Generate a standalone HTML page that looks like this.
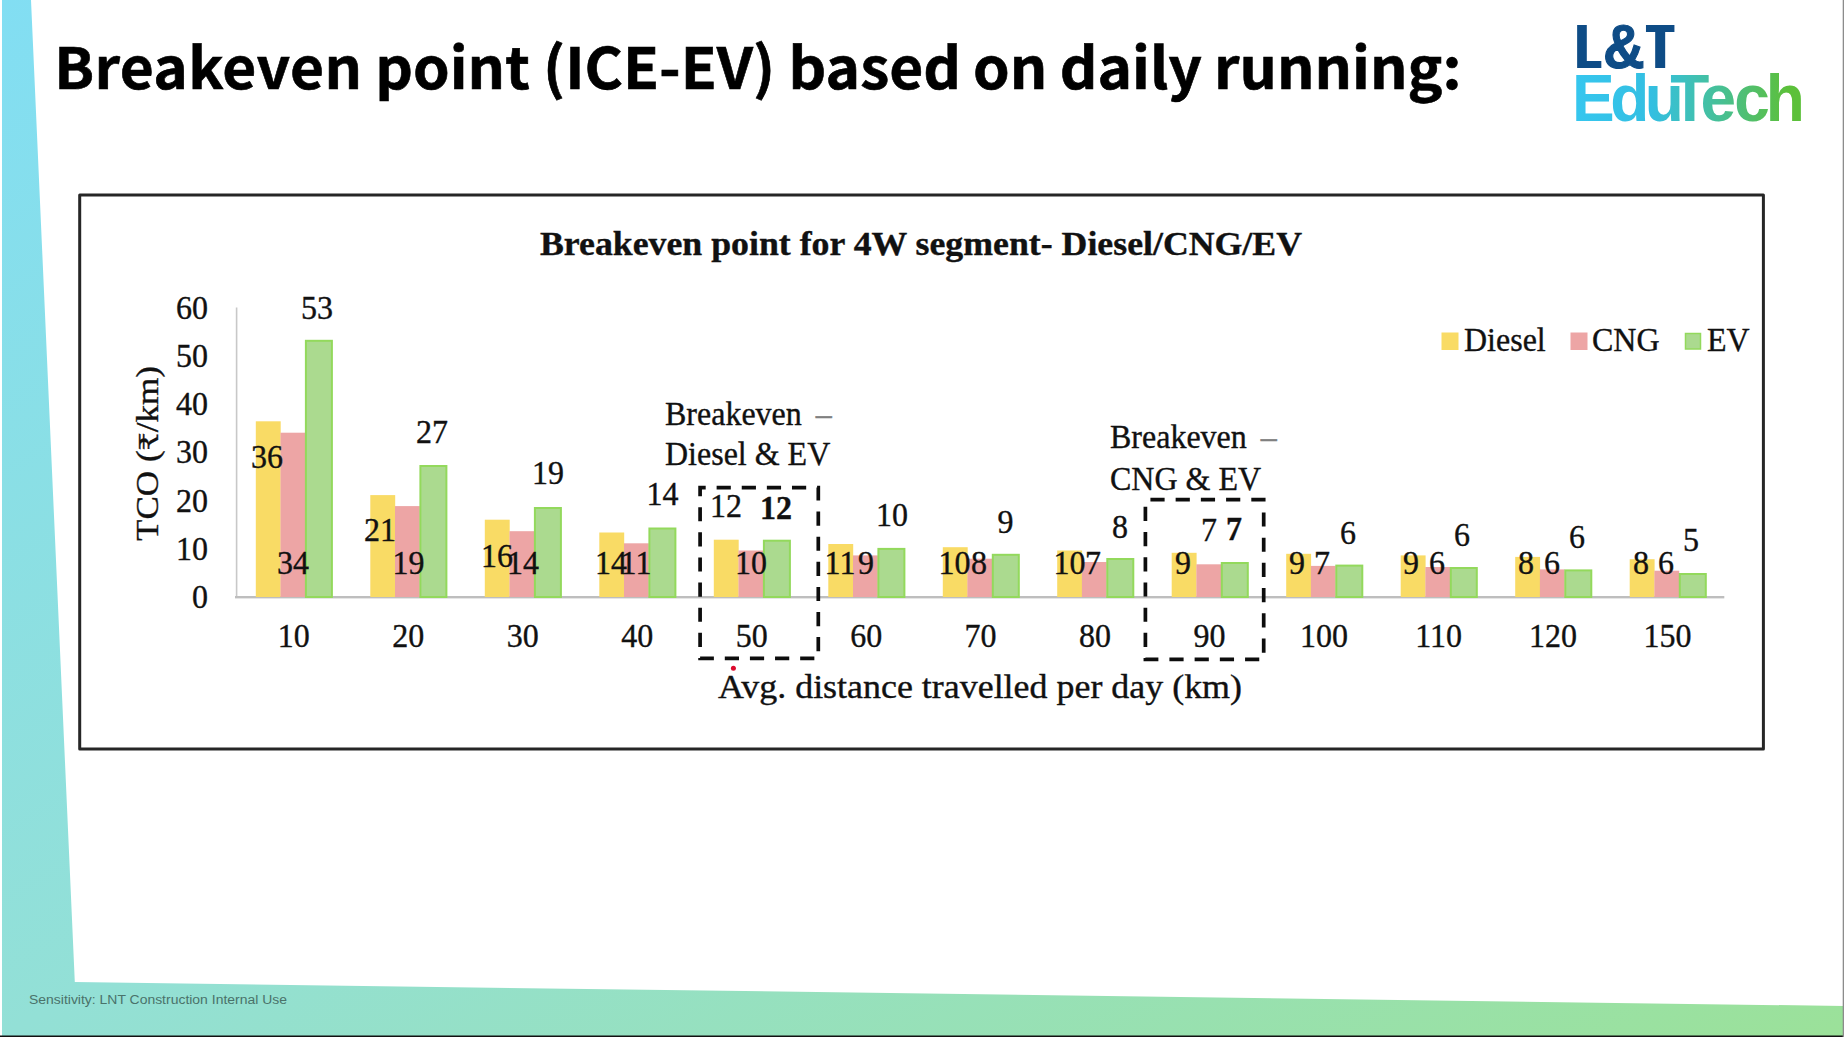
<!DOCTYPE html>
<html lang="en"><head><meta charset="utf-8"><title>Breakeven point (ICE-EV) based on daily running</title>
<style>html,body{margin:0;padding:0;background:#fff;overflow:hidden}body{width:1844px;height:1037px;position:relative}svg{position:absolute;left:0;top:0;display:block}text{white-space:pre}
.s{font-family:"Liberation Serif",serif;font-size:32px;fill:#111;stroke:#111;stroke-width:.35px}
.h{font-family:"Liberation Sans",sans-serif}
.t{font-family:"Noto Sans CJK SC","Liberation Sans",sans-serif}
</style>
</head><body>
<svg width="1844" height="1037" viewBox="0 0 1844 1037">
<defs>
<linearGradient id="bg" gradientUnits="userSpaceOnUse" x1="0" y1="0" x2="886" y2="1576"><stop offset="0" stop-color="#82def3"/><stop offset="0.5" stop-color="#93e0d6"/><stop offset="1" stop-color="#9be199"/></linearGradient>
<linearGradient id="lg" gradientUnits="userSpaceOnUse" x1="1625.8" y1="0" x2="1856.7" y2="0"><stop offset="0" stop-color="#36c6ee"/><stop offset="0.33" stop-color="#33bfe2"/><stop offset="0.46" stop-color="#3cc0c4"/><stop offset="0.63" stop-color="#46c098"/><stop offset="0.78" stop-color="#52bf6a"/><stop offset="0.94" stop-color="#5cc03a"/></linearGradient>
<filter id="hb" filterUnits="userSpaceOnUse" x="1560" y="10" width="140" height="70" color-interpolation-filters="sRGB"><feMorphology operator="dilate" radius="2 0"/></filter>
</defs>
<rect x="0" y="0" width="1844" height="1037" fill="#fff"/>
<path d="M2 0 L31 0 L74.8 982 L1844 1006 L1844 1037 L2 1037 Z" fill="url(#bg)"/>
<rect x="0" y="1035.5" width="1844" height="1.5" fill="#111"/>
<rect x="1842.7" y="0" width="1.3" height="1037" fill="#8c8c8c"/>
<text class="t" transform="translate(54.3 89) scale(1.023 1)" font-weight="700" font-size="57.3" fill="#000" stroke="#000" stroke-width="0.6"><tspan x="0.0" letter-spacing="0.33">Breakeven </tspan><tspan x="313.8">point </tspan><tspan x="477.8">(ICE-EV) </tspan><tspan x="717.8">based </tspan><tspan x="898.0">on </tspan><tspan x="982.8">daily </tspan><tspan x="1133.7">running:</tspan></text>
<g aria-label="L&amp;T EduTech" class="h" font-weight="700">
<g filter="url(#hb)"><text transform="translate(1576.57 67.8) scale(0.627 1)" font-size="62.8" fill="#0e4c86">L</text></g>
<g><text transform="translate(1603.12 67.8) scale(0.920 1)" font-size="62.8" fill="#0e4c86" stroke="#0e4c86" stroke-width="1.2">&amp;</text></g>
<g filter="url(#hb)"><text transform="translate(1647.53 67.8) scale(0.662 1)" font-size="62.8" fill="#0e4c86">T</text></g>
<text transform="scale(0.970 1)" x="1620.63 1660.10 1695.59 1721.84 1753.03 1787.92 1820.46" y="120.8" font-size="66.0" fill="url(#lg)">EduTech</text>
</g>
<text class="h" x="29" y="1003.6" font-size="12.5" fill="#4a726a" textLength="258" lengthAdjust="spacingAndGlyphs">Sensitivity: LNT Construction Internal Use</text>
<rect x="79.7" y="194.9" width="1683.7" height="554" fill="#fff" stroke="#262626" stroke-width="3" stroke-linejoin="round"/>
<text class="s" transform="translate(921 255) scale(1 1.08)" font-size="33" text-anchor="middle" font-weight="700" textLength="762" lengthAdjust="spacingAndGlyphs">Breakeven point for 4W segment- Diesel/CNG/EV</text>
<rect x="235.8" y="307.5" width="1.6" height="290" fill="#c8c8c8"/>
<rect x="235" y="596" width="1489.3" height="2.4" fill="#bebebe"/>
<text class="s" transform="translate(208 608) scale(1 1.08)" text-anchor="end">0</text>
<text class="s" transform="translate(208 559.8) scale(1 1.08)" text-anchor="end">10</text>
<text class="s" transform="translate(208 511.5) scale(1 1.08)" text-anchor="end">20</text>
<text class="s" transform="translate(208 463.3) scale(1 1.08)" text-anchor="end">30</text>
<text class="s" transform="translate(208 415.1) scale(1 1.08)" text-anchor="end">40</text>
<text class="s" transform="translate(208 366.8) scale(1 1.08)" text-anchor="end">50</text>
<text class="s" transform="translate(208 318.6) scale(1 1.08)" text-anchor="end">60</text>
<text class="s" transform="translate(158 453.5) rotate(-90)" text-anchor="middle" font-size="35" textLength="175" lengthAdjust="spacingAndGlyphs">TCO (<tspan font-family="DejaVu Serif,DejaVu Sans,serif" font-size="26">₹</tspan>/km)</text>
<rect x="255.8" y="421.3" width="24.9" height="175.7" fill="#f9db65"/>
<rect x="280.5" y="432.7" width="24.8" height="164.3" fill="#eda5a5"/>
<rect x="305.9" y="340.8" width="26.0" height="256.2" fill="#abda8f" stroke="#93d95c" stroke-width="2"/>
<rect x="370.3" y="495.1" width="24.9" height="101.9" fill="#f9db65"/>
<rect x="395.0" y="506.1" width="24.8" height="90.9" fill="#eda5a5"/>
<rect x="420.4" y="466.0" width="26.0" height="131.0" fill="#abda8f" stroke="#93d95c" stroke-width="2"/>
<rect x="484.8" y="519.7" width="24.9" height="77.3" fill="#f9db65"/>
<rect x="509.5" y="531.2" width="24.8" height="65.8" fill="#eda5a5"/>
<rect x="534.9" y="508.0" width="26.0" height="89.0" fill="#abda8f" stroke="#93d95c" stroke-width="2"/>
<rect x="599.3" y="532.5" width="24.9" height="64.5" fill="#f9db65"/>
<rect x="624.0" y="543.3" width="24.8" height="53.7" fill="#eda5a5"/>
<rect x="649.4" y="528.5" width="26.0" height="68.5" fill="#abda8f" stroke="#93d95c" stroke-width="2"/>
<rect x="713.8" y="539.7" width="24.9" height="57.3" fill="#f9db65"/>
<rect x="738.5" y="550.5" width="24.8" height="46.5" fill="#eda5a5"/>
<rect x="763.9" y="540.7" width="26.0" height="56.3" fill="#abda8f" stroke="#93d95c" stroke-width="2"/>
<rect x="828.3" y="544.0" width="24.9" height="53.0" fill="#f9db65"/>
<rect x="853.0" y="555.4" width="24.8" height="41.6" fill="#eda5a5"/>
<rect x="878.4" y="548.9" width="26.0" height="48.1" fill="#abda8f" stroke="#93d95c" stroke-width="2"/>
<rect x="942.8" y="547.2" width="24.9" height="49.8" fill="#f9db65"/>
<rect x="967.4" y="558.7" width="24.8" height="38.3" fill="#eda5a5"/>
<rect x="992.8" y="554.8" width="26.0" height="42.2" fill="#abda8f" stroke="#93d95c" stroke-width="2"/>
<rect x="1057.2" y="550.5" width="24.9" height="46.5" fill="#f9db65"/>
<rect x="1081.9" y="562.0" width="24.8" height="35.0" fill="#eda5a5"/>
<rect x="1107.3" y="559.0" width="26.0" height="38.0" fill="#abda8f" stroke="#93d95c" stroke-width="2"/>
<rect x="1171.7" y="552.8" width="24.9" height="44.2" fill="#f9db65"/>
<rect x="1196.4" y="564.3" width="24.8" height="32.7" fill="#eda5a5"/>
<rect x="1221.8" y="563.0" width="26.0" height="34.0" fill="#abda8f" stroke="#93d95c" stroke-width="2"/>
<rect x="1286.2" y="553.8" width="24.9" height="43.2" fill="#f9db65"/>
<rect x="1310.9" y="565.9" width="24.8" height="31.1" fill="#eda5a5"/>
<rect x="1336.3" y="565.6" width="26.0" height="31.4" fill="#abda8f" stroke="#93d95c" stroke-width="2"/>
<rect x="1400.7" y="555.4" width="24.9" height="41.6" fill="#f9db65"/>
<rect x="1425.4" y="567.0" width="24.8" height="30.0" fill="#eda5a5"/>
<rect x="1450.8" y="568.0" width="26.0" height="29.0" fill="#abda8f" stroke="#93d95c" stroke-width="2"/>
<rect x="1515.2" y="556.9" width="24.9" height="40.1" fill="#f9db65"/>
<rect x="1539.9" y="569.4" width="24.8" height="27.6" fill="#eda5a5"/>
<rect x="1565.3" y="570.4" width="26.0" height="26.6" fill="#abda8f" stroke="#93d95c" stroke-width="2"/>
<rect x="1629.7" y="559.2" width="24.9" height="37.8" fill="#f9db65"/>
<rect x="1654.4" y="570.7" width="24.8" height="26.3" fill="#eda5a5"/>
<rect x="1679.8" y="574.0" width="26.0" height="23.0" fill="#abda8f" stroke="#93d95c" stroke-width="2"/>
<text class="s" transform="translate(293.7 647) scale(1 1.08)" text-anchor="middle">10</text>
<text class="s" transform="translate(408.2 647) scale(1 1.08)" text-anchor="middle">20</text>
<text class="s" transform="translate(522.7 647) scale(1 1.08)" text-anchor="middle">30</text>
<text class="s" transform="translate(637.2 647) scale(1 1.08)" text-anchor="middle">40</text>
<text class="s" transform="translate(751.7 647) scale(1 1.08)" text-anchor="middle">50</text>
<text class="s" transform="translate(866.2 647) scale(1 1.08)" text-anchor="middle">60</text>
<text class="s" transform="translate(980.6 647) scale(1 1.08)" text-anchor="middle">70</text>
<text class="s" transform="translate(1095.1 647) scale(1 1.08)" text-anchor="middle">80</text>
<text class="s" transform="translate(1209.6 647) scale(1 1.08)" text-anchor="middle">90</text>
<text class="s" transform="translate(1324.1 647) scale(1 1.08)" text-anchor="middle">100</text>
<text class="s" transform="translate(1438.6 647) scale(1 1.08)" text-anchor="middle">110</text>
<text class="s" transform="translate(1553.1 647) scale(1 1.08)" text-anchor="middle">120</text>
<text class="s" transform="translate(1667.6 647) scale(1 1.08)" text-anchor="middle">150</text>
<text class="s" transform="translate(980 698) scale(1 1.08)" font-size="36" text-anchor="middle" textLength="524" lengthAdjust="spacingAndGlyphs">Avg. distance travelled per day (km)</text>
<text class="s" transform="translate(317 319) scale(1 1.08)" text-anchor="middle">53</text>
<text class="s" transform="translate(267 468) scale(1 1.08)" text-anchor="middle">36</text>
<text class="s" transform="translate(293 574) scale(1 1.08)" text-anchor="middle">34</text>
<text class="s" transform="translate(432 443) scale(1 1.08)" text-anchor="middle">27</text>
<text class="s" transform="translate(380 541) scale(1 1.08)" text-anchor="middle">21</text>
<text class="s" transform="translate(408.5 574) scale(1 1.08)" text-anchor="middle">19</text>
<text class="s" transform="translate(548 484) scale(1 1.08)" text-anchor="middle">19</text>
<text class="s" transform="translate(497 567) scale(1 1.08)" text-anchor="middle">16</text>
<text class="s" transform="translate(523 574) scale(1 1.08)" text-anchor="middle">14</text>
<text class="s" transform="translate(662.5 504.5) scale(1 1.08)" text-anchor="middle">14</text>
<text class="s" transform="translate(611 574) scale(1 1.08)" text-anchor="middle">14</text>
<text class="s" transform="translate(636 574) scale(1 1.08)" text-anchor="middle">11</text>
<text class="s" transform="translate(726 517) scale(1 1.08)" text-anchor="middle">12</text>
<text class="s" transform="translate(776 518.5) scale(1 1.08)" text-anchor="middle" font-weight="700">12</text>
<text class="s" transform="translate(751 574) scale(1 1.08)" text-anchor="middle">10</text>
<text class="s" transform="translate(892 526) scale(1 1.08)" text-anchor="middle">10</text>
<text class="s" transform="translate(840 574) scale(1 1.08)" text-anchor="middle">11</text>
<text class="s" transform="translate(866 574) scale(1 1.08)" text-anchor="middle">9</text>
<text class="s" transform="translate(1005.5 532.5) scale(1 1.08)" text-anchor="middle">9</text>
<text class="s" transform="translate(954.5 574) scale(1 1.08)" text-anchor="middle">10</text>
<text class="s" transform="translate(979 574) scale(1 1.08)" text-anchor="middle">8</text>
<text class="s" transform="translate(1120 538) scale(1 1.08)" text-anchor="middle">8</text>
<text class="s" transform="translate(1069.5 574) scale(1 1.08)" text-anchor="middle">10</text>
<text class="s" transform="translate(1093 574) scale(1 1.08)" text-anchor="middle">7</text>
<text class="s" transform="translate(1209 541) scale(1 1.08)" text-anchor="middle">7</text>
<text class="s" transform="translate(1234 540) scale(1 1.08)" text-anchor="middle" font-weight="700">7</text>
<text class="s" transform="translate(1183 574) scale(1 1.08)" text-anchor="middle">9</text>
<text class="s" transform="translate(1348 544) scale(1 1.08)" text-anchor="middle">6</text>
<text class="s" transform="translate(1297 574) scale(1 1.08)" text-anchor="middle">9</text>
<text class="s" transform="translate(1322 574) scale(1 1.08)" text-anchor="middle">7</text>
<text class="s" transform="translate(1462 546) scale(1 1.08)" text-anchor="middle">6</text>
<text class="s" transform="translate(1411 574) scale(1 1.08)" text-anchor="middle">9</text>
<text class="s" transform="translate(1437 574) scale(1 1.08)" text-anchor="middle">6</text>
<text class="s" transform="translate(1577 548) scale(1 1.08)" text-anchor="middle">6</text>
<text class="s" transform="translate(1526 574) scale(1 1.08)" text-anchor="middle">8</text>
<text class="s" transform="translate(1552 574) scale(1 1.08)" text-anchor="middle">6</text>
<text class="s" transform="translate(1691 551) scale(1 1.08)" text-anchor="middle">5</text>
<text class="s" transform="translate(1641 574) scale(1 1.08)" text-anchor="middle">8</text>
<text class="s" transform="translate(1666 574) scale(1 1.08)" text-anchor="middle">6</text>
<rect x="1441.5" y="332.5" width="17" height="17.5" fill="#f9db65"/>
<text class="s" transform="translate(1464 351) scale(1 1.08)">Diesel</text>
<rect x="1570.5" y="332.5" width="17" height="17.5" fill="#eda5a5"/>
<text class="s" transform="translate(1592 351) scale(1 1.08)">CNG</text>
<rect x="1685.5" y="333.5" width="15" height="15.5" fill="#abda8f" stroke="#93d95c" stroke-width="1.5"/>
<text class="s" transform="translate(1707 351) scale(1 1.08)">EV</text>
<text class="s" transform="translate(665 425) scale(1 1.08)" font-size="32.4">Breakeven<tspan dx="14" fill="#808080" stroke="#808080">–</tspan></text>
<text class="s" transform="translate(665 465) scale(1 1.08)" font-size="32.4">Diesel &amp; EV</text>
<text class="s" transform="translate(1110 448) scale(1 1.08)" font-size="32.4">Breakeven<tspan dx="14" fill="#808080" stroke="#808080">–</tspan></text>
<text class="s" transform="translate(1110 490) scale(1 1.08)" font-size="32.4">CNG &amp; EV</text>
<path d="M700.1 487.6 H818.3 V658.3 H700.1 Z" fill="none" stroke="#0d0d0d" stroke-width="3.7" stroke-dasharray="14.2 10.92" stroke-dashoffset="8.6"/>
<path d="M1145.4 499.6 H1263.7 V659.3 H1145.4 Z" fill="none" stroke="#0d0d0d" stroke-width="3.7" stroke-dasharray="14.2 11.02" stroke-dashoffset="20.2"/>
<circle cx="733.4" cy="668.3" r="2.5" fill="#dc0a2d"/>
</svg>
</body></html>
